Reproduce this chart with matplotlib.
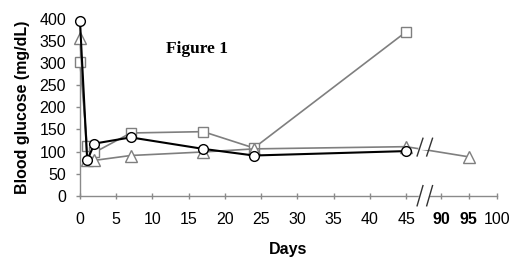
import numpy as np
import matplotlib.pyplot as plt

# data
days_circle = [0, 1, 2, 7, 17, 24, 45]
glucose_circle = [395, 80, 118, 132, 106, 91, 101]

days_triangle = [0, 1, 2, 7, 17, 24, 45, 95]
glucose_triangle = [358, 80, 80, 91, 99, 106, 111, 88]

days_square = [0, 1, 2, 7, 17, 24, 45]
glucose_square = [302, 112, 98, 142, 145, 108, 371]

xticks = [0, 5, 10, 15, 20, 25, 30, 35, 40, 45, 90, 95, 100]
yticks = list(range(0, 401, 50))

plt.rcParams['font.family'] = ['Liberation Sans', 'DejaVu Sans']

# broken x axis: 0-45 linear, then 90-100 squeezed in after the break
X_BREAK = 45.0
X_RIGHT = 90.0
P_RIGHT = 49.8
RIGHT_SCALE = 0.77


def fwd(d):
    d = np.asarray(d, dtype=float)
    mid = X_BREAK + (d - X_BREAK) * (P_RIGHT - X_BREAK) / (X_RIGHT - X_BREAK)
    right = P_RIGHT + (d - X_RIGHT) * RIGHT_SCALE
    return np.where(d <= X_BREAK, d, np.where(d <= X_RIGHT, mid, right))


def inv(p):
    p = np.asarray(p, dtype=float)
    mid = X_BREAK + (p - X_BREAK) * (X_RIGHT - X_BREAK) / (P_RIGHT - X_BREAK)
    right = X_RIGHT + (p - P_RIGHT) / RIGHT_SCALE
    return np.where(p <= X_BREAK, p, np.where(p <= P_RIGHT, mid, right))


gray = '#7f7f7f'

fig = plt.figure(figsize=(5.2, 2.62), dpi=100)
ax = fig.add_axes([0.1538, 0.253, 0.8014, 0.6745])
ax.set_xscale('function', functions=(fwd, inv))

ax.plot(days_square, glucose_square, color=gray, lw=1.2, marker='s', ms=7.5,
        mfc='white', mec=gray, mew=1.0, zorder=3, clip_on=False)
ax.plot(days_triangle, glucose_triangle, color=gray, lw=1.2, marker='^', ms=8,
        mfc='white', mec=gray, mew=1.0, zorder=4, clip_on=False)
ax.plot(days_circle, glucose_circle, color='black', lw=1.5, marker='o', ms=7,
        mfc='white', mec='black', mew=1.0, zorder=5, clip_on=False)

ax.set_xlim(0, 100)
ax.set_ylim(0, 400)
ax.set_xticks(xticks)
ax.set_xticklabels([str(t) for t in xticks])
ax.set_yticks(yticks)
ax.xaxis.set_minor_locator(plt.NullLocator())

for s in ['top', 'right']:
    ax.spines[s].set_visible(False)
for s in ['left', 'bottom']:
    ax.spines[s].set_color('#8a8a8a')
    ax.spines[s].set_linewidth(1.0)

ax.tick_params(axis='y', direction='out', length=3, width=1, color='#8a8a8a',
               labelsize=11.5, pad=7)
ax.tick_params(axis='x', direction='inout', length=5, width=1, color='#8a8a8a',
               labelsize=11.5, pad=9)
for lab in ax.get_xticklabels():
    if lab.get_text() in ('90', '95'):
        lab.set_fontweight('bold')

ax.set_ylabel('Blood glucose (mg/dL)', fontsize=11.5, fontweight='bold', labelpad=7)
ax.set_xlabel('Days', fontsize=11.5, fontweight='bold', labelpad=11)

ax.text(0.28, 0.83, 'Figure 1', transform=ax.transAxes, ha='center', va='center',
        fontsize=12.5, fontweight='bold', family=['Liberation Serif', 'DejaVu Serif'])

# break marks on the axis and on the triangle line
for yc, dy in [(0.0, 0.057), (0.275, 0.05)]:
    xs = [0.816, 0.839]
    ax.fill([xs[0] + 0.003, xs[1] + 0.003, xs[1] - 0.003, xs[0] - 0.003],
            [yc + 0.012, yc + 0.012, yc - 0.012, yc - 0.012],
            color='white', transform=ax.transAxes, clip_on=False, zorder=6)
    for xc in xs:
        ax.plot([xc - 0.007, xc + 0.007], [yc - dy, yc + dy], color='#333333',
                lw=1.0, transform=ax.transAxes, clip_on=False, zorder=7)

fig.savefig('out.png', dpi=100)
